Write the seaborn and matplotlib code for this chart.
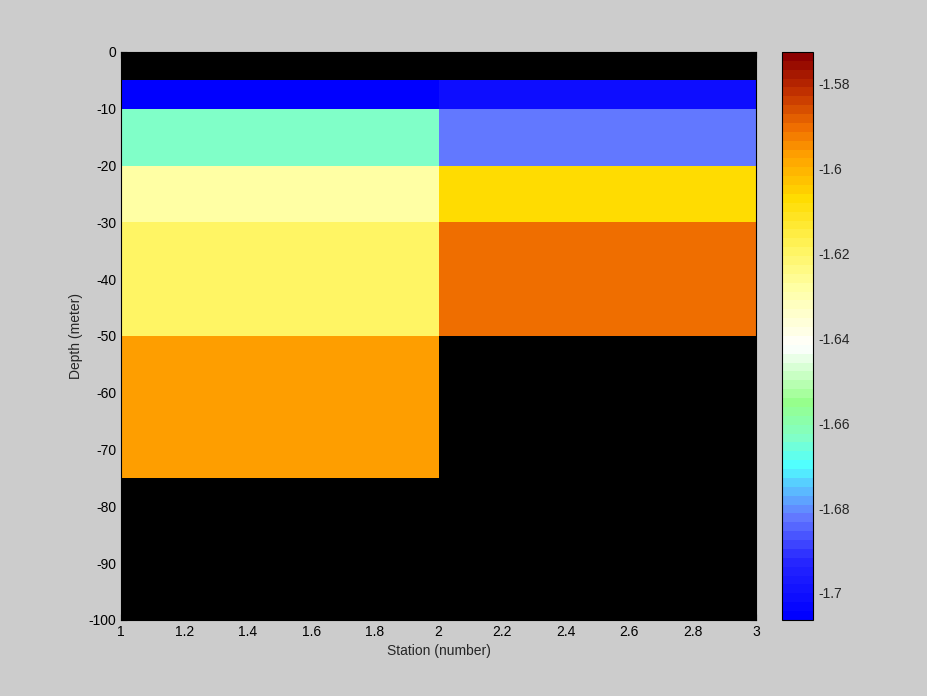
import numpy as np
import matplotlib
matplotlib.use("Agg")
import matplotlib.pyplot as plt
import seaborn as sns
from matplotlib.colors import LinearSegmentedColormap, ListedColormap, Normalize
from matplotlib.ticker import FuncFormatter

# station and depth cell edges
station_edges = [1, 2, 3]
depth_edges = [0, -5, -10, -20, -30, -50, -75, -100]

# cell values (rows = depth layers, cols = stations); nan = no data
station1 = [np.nan, -1.7064, -1.6635, -1.6279, -1.6196, -1.5966, np.nan]
station2 = [np.nan, -1.7012, -1.6823, -1.6070, -1.5903, np.nan, np.nan]

vmin, vmax = -1.7064, -1.5725
cbar_ticks = [-1.70, -1.68, -1.66, -1.64, -1.62, -1.60, -1.58]

sns.set_style("ticks")
plt.rcParams["font.family"] = ["Liberation Sans", "DejaVu Sans"]
plt.rcParams["font.size"] = 10

# blue -> cyan -> white -> yellow -> orange -> dark red, 64 steps
anchors = [
    (0.0000, (0, 0, 255)),
    (0.1000, (40, 40, 255)),
    (0.1746, (100, 122, 255)),
    (0.2700, (80, 255, 255)),
    (0.3175, (128, 255, 200)),
    (0.3800, (150, 255, 140)),
    (0.4800, (255, 255, 255)),
    (0.5873, (255, 255, 165)),
    (0.6508, (255, 245, 100)),
    (0.7460, (255, 220, 0)),
    (0.8254, (255, 160, 0)),
    (0.8730, (240, 112, 0)),
    (0.9400, (190, 45, 0)),
    (1.0000, (140, 0, 0)),
]
smooth = LinearSegmentedColormap.from_list(
    "ocean_temp", [(f, tuple(c / 255 for c in col)) for f, col in anchors])
cmap = ListedColormap(smooth(np.linspace(0, 1, 64)))
cmap.set_bad("black")

values = np.ma.masked_invalid(np.column_stack([station1, station2]))

fig = plt.figure(figsize=(9.28, 6.96), dpi=100, facecolor="#cccccc")
ax = fig.add_axes([0.1304, 0.1092, 0.6843, 0.8161])
cax = fig.add_axes([0.8427, 0.1092, 0.0334, 0.8161])

mesh = ax.pcolormesh(station_edges, depth_edges, values, cmap=cmap,
                     norm=Normalize(vmin=vmin, vmax=vmax), shading="flat")
ax.set_facecolor("black")
ax.set_xlim(1, 3)
ax.set_ylim(-100, 0)
ax.set_xticks(np.arange(1, 3.01, 0.2))
ax.set_yticks(np.arange(-100, 1, 10))
fmt = FuncFormatter(lambda v, p: "%g" % round(v, 4))
ax.xaxis.set_major_formatter(fmt)
ax.yaxis.set_major_formatter(fmt)
ax.tick_params(direction="in", top=True, right=True, length=4, width=0.8,
               colors="black", labelsize=10)
for s in ax.spines.values():
    s.set_color("black")
    s.set_linewidth(0.8)
ax.set_xlabel("Station (number)", fontsize=10)
ax.set_ylabel("Depth (meter)", fontsize=10)

cbar = fig.colorbar(mesh, cax=cax)
cbar.set_ticks(cbar_ticks)
cbar.ax.yaxis.set_major_formatter(FuncFormatter(lambda v, p: "%g" % round(v, 4)))
cbar.ax.tick_params(direction="in", left=True, right=True, length=4, width=0.8,
                    labelsize=10)
cbar.outline.set_edgecolor("black")
cbar.outline.set_linewidth(0.8)

fig.savefig("out.png", dpi=100, facecolor=fig.get_facecolor())
